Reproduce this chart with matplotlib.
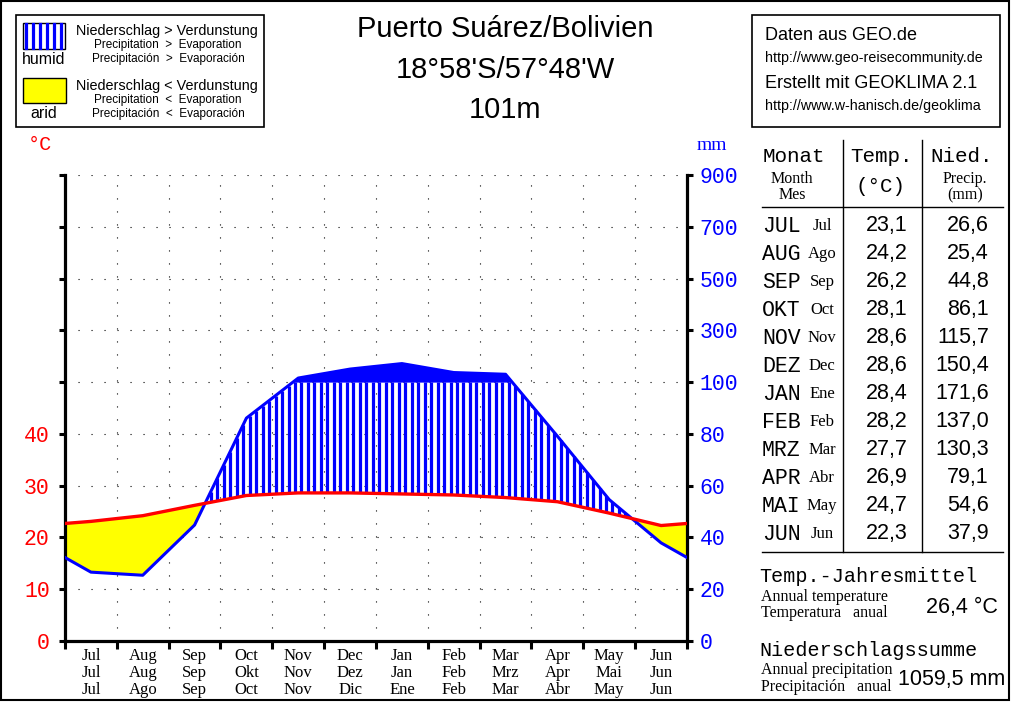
import numpy as np
import matplotlib
matplotlib.use('Agg')
import matplotlib.pyplot as plt
import matplotlib.transforms as mtransforms
from matplotlib.patches import Rectangle

# climate data Puerto Suarez (Jul..Jun)
months_en = ['Jul', 'Aug', 'Sep', 'Oct', 'Nov', 'Dec', 'Jan', 'Feb', 'Mar', 'Apr', 'May', 'Jun']
months_de = ['Jul', 'Aug', 'Sep', 'Okt', 'Nov', 'Dez', 'Jan', 'Feb', 'Mrz', 'Apr', 'Mai', 'Jun']
months_es = ['Jul', 'Ago', 'Sep', 'Oct', 'Nov', 'Dic', 'Ene', 'Feb', 'Mar', 'Abr', 'May', 'Jun']
table_de = ['JUL', 'AUG', 'SEP', 'OKT', 'NOV', 'DEZ', 'JAN', 'FEB', 'MRZ', 'APR', 'MAI', 'JUN']
table_es = ['Jul', 'Ago', 'Sep', 'Oct', 'Nov', 'Dec', 'Ene', 'Feb', 'Mar', 'Abr', 'May', 'Jun']
temp = [23.1, 24.2, 26.2, 28.1, 28.6, 28.6, 28.4, 28.2, 27.7, 26.9, 24.7, 22.3]
prec = [26.6, 25.4, 44.8, 86.1, 115.7, 150.4, 171.6, 137.0, 130.3, 79.1, 54.6, 37.9]
temp_ticks = ['0', '10', '20', '30', '40', '', '', '', '', '']
prec_ticks = ['0', '20', '40', '60', '80', '100', '300', '500', '700', '900']

MONO = 'Liberation Mono'
SERIF = 'Liberation Serif'
SANS = 'Liberation Sans'
BLUE = '#0000ff'
RED = '#ff0000'


def fmt(v):
    return f"{v:.1f}".replace('.', ',')


def scale_prec(p):
    p = np.asarray(p, dtype=float)
    return np.where(p <= 100, p / 2.0, 50 + (p - 100) / 20.0)


# extend curves to the plot edges with the mean of Jun/Jul
xm = np.arange(12) + 0.5
xe = np.concatenate([[0], xm, [12]])
te = np.concatenate([[(temp[0] + temp[-1]) / 2], temp, [(temp[0] + temp[-1]) / 2]])
pe_raw = np.concatenate([[(prec[0] + prec[-1]) / 2], prec, [(prec[0] + prec[-1]) / 2]])
pe = scale_prec(pe_raw)

xf = np.linspace(0, 12, 2401)
tf = np.interp(xf, xe, te)
pf = np.interp(xf, xe, pe)

fig = plt.figure(figsize=(10.12, 7.02), dpi=100)
ov = fig.add_axes([0, 0, 1, 1], zorder=0)
ov.set_xlim(0, 1012)
ov.set_ylim(702, 0)
ov.axis('off')

ax = fig.add_axes([65 / 1012, 61 / 702, 622 / 1012, 466 / 702], zorder=2)
ax.set_xlim(0, 12)
ax.set_ylim(0, 90)

# arid area
ax.fill_between(xf, pf, tf, where=pf <= tf, interpolate=True, color='#ffff00', lw=0, zorder=2)
# humid > 100 mm
ax.fill_between(xf, 50, pf, where=pf >= 50, interpolate=True, color=BLUE, lw=0, zorder=2)
# humid stripes
step = 0.125
xs = np.arange(step / 2, 12, step)
ts = np.interp(xs, xe, te)
ps = np.interp(xs, xe, pe)
m = ps > ts
ax.vlines(xs[m], ts[m], np.minimum(ps[m], 50), color=BLUE, lw=2.3, zorder=2)

ax.plot(xe, pe, color=BLUE, lw=2.2, zorder=4, solid_joinstyle='round')
ax.plot(xe, te, color=RED, lw=2.4, zorder=5, solid_joinstyle='round')

# dotted grid
for yv in range(10, 91, 10):
    ax.axhline(yv, color='black', lw=0.8, ls=(0, (1, 10.7)), zorder=1)
for xv in range(1, 12):
    ax.axvline(xv, color='black', lw=0.8, ls=(0, (1, 10.7)), zorder=1)

for side in ['left', 'right', 'bottom']:
    ax.spines[side].set_linewidth(2.3)
ax.spines['top'].set_visible(False)

ax.set_yticks(range(0, 91, 10))
ax.set_yticklabels(temp_ticks, color=RED, family=MONO, fontsize=15.5)
ax.tick_params(axis='y', direction='out', length=4, width=2.2, pad=7)
ax.set_xticks(range(13))
ax.set_xticklabels([])
ax.tick_params(axis='x', direction='out', length=6, width=2.2)

ax2 = ax.twinx()
ax2.set_ylim(0, 90)
ax2.set_yticks(range(0, 91, 10))
ax2.set_yticklabels(prec_ticks, color=BLUE, family=MONO, fontsize=15.5)
ax2.tick_params(axis='y', direction='out', length=4, width=2.2, pad=5)
for side in ['left', 'right', 'bottom', 'top']:
    ax2.spines[side].set_visible(False)

# month labels below the axis
trans = mtransforms.blended_transform_factory(ax.transData, ov.transData)
for i in range(12):
    for lab, yp in zip([months_en[i], months_de[i], months_es[i]], [656, 673, 690]):
        ax.text(xm[i], yp, lab, transform=trans, ha='center', va='center',
                family=SERIF, fontsize=12, clip_on=False)

ov.text(40, 145, '°C', color=RED, family=MONO, fontsize=14.5, ha='center', va='center')
ov.text(712, 145, 'mm', color=BLUE, family=SERIF, fontsize=14, ha='center', va='center')

# title
for txt, yp in zip(['Puerto Suárez/Bolivien', "18°58'S/57°48'W", '101m'], [29, 70, 110]):
    ov.text(505, yp, txt, family=SANS, fontsize=21, ha='center', va='center')

# legend box
ov.add_patch(Rectangle((16, 15), 248, 112, fill=False, ec='black', lw=1.2))
ov.add_patch(Rectangle((23, 23), 42, 26, fc='white', ec='black', lw=1))
for xv in np.arange(26, 65, 7):
    ov.plot([xv, xv], [24, 48], color=BLUE, lw=2.3)
ov.text(44, 59, 'humid', family=SANS, fontsize=11.5, ha='center', va='center')
ov.add_patch(Rectangle((23, 78), 43, 25, fc='#ffff00', ec='black', lw=1))
ov.text(44, 113, 'arid', family=SANS, fontsize=11.5, ha='center', va='center')
for sign, y0 in zip(['>', '<'], [31, 86]):
    ov.text(76, y0, f'Niederschlag {sign} Verdunstung', family=SANS, fontsize=10.4, va='center')
    ov.text(168, y0 + 14, f'Precipitation  {sign}  Evaporation', family=SANS, fontsize=8.5,
            ha='center', va='center')
    ov.text(168, y0 + 28, f'Precipitación  {sign}  Evaporación', family=SANS, fontsize=8.5,
            ha='center', va='center')

# source box
ov.add_patch(Rectangle((752, 15), 248, 112, fill=False, ec='black', lw=1.2))
ov.text(765, 35, 'Daten aus GEO.de', family=SANS, fontsize=13, va='center')
ov.text(765, 58, 'http://www.geo-reisecommunity.de', family=SANS, fontsize=10.3, va='center')
ov.text(765, 83, 'Erstellt mit GEOKLIMA 2.1', family=SANS, fontsize=13, va='center')
ov.text(765, 106, 'http://www.w-hanisch.de/geoklima', family=SANS, fontsize=10.3, va='center')

# table
ov.plot([843, 843], [140, 552], color='black', lw=1)
ov.plot([922, 922], [140, 552], color='black', lw=1)
ov.plot([762, 1003], [207, 207], color='black', lw=1)
ov.plot([762, 1003], [552, 552], color='black', lw=1)
ov.text(794, 157, 'Monat', family=MONO, fontsize=15, ha='center', va='center')
ov.text(792, 179, 'Month', family=SERIF, fontsize=11.5, ha='center', va='center')
ov.text(792, 195, 'Mes', family=SERIF, fontsize=11.5, ha='center', va='center')
ov.text(882, 157, 'Temp.', family=MONO, fontsize=15, ha='center', va='center')
ov.text(881, 187, '(°C)', family=MONO, fontsize=15, ha='center', va='center')
ov.text(962, 157, 'Nied.', family=MONO, fontsize=15, ha='center', va='center')
ov.text(965, 179, 'Precip.', family=SERIF, fontsize=11.5, ha='center', va='center')
ov.text(965, 195, '(mm)', family=SERIF, fontsize=11.5, ha='center', va='center')
for i in range(12):
    yp = 226 + 28 * i
    ov.text(762, yp, table_de[i], family=MONO, fontsize=15.5, va='center')
    ov.text(822, yp, table_es[i], family=SERIF, fontsize=12, ha='center', va='center')
    ov.text(908, yp, fmt(temp[i]), family=SANS, fontsize=15.5, ha='right', va='center')
    ov.text(989, yp, fmt(prec[i]), family=SANS, fontsize=15.5, ha='right', va='center')

# annual values
ov.text(759, 576, 'Temp.-Jahresmittel', family=MONO, fontsize=14.5, va='center')
ov.text(761, 597, 'Annual temperature', family=SERIF, fontsize=11.5, va='center')
ov.text(761, 613, 'Temperatura   anual', family=SERIF, fontsize=11.5, va='center')
ov.text(998, 608, f'{fmt(np.mean(temp))} °C', family=SANS, fontsize=15.5, ha='right', va='center')
ov.text(759, 651, 'Niederschlagssumme', family=MONO, fontsize=14.5, va='center')
ov.text(761, 670, 'Annual precipitation', family=SERIF, fontsize=11.5, va='center')
ov.text(761, 687, 'Precipitación   anual', family=SERIF, fontsize=11.5, va='center')
ov.text(1005, 680, f'{fmt(np.sum(prec))} mm', family=SANS, fontsize=15.5, ha='right', va='center')

# outer frame
ov.add_patch(Rectangle((1, 1), 1008, 699, fill=False, ec='black', lw=1.5))

fig.savefig('out.png', dpi=100)
